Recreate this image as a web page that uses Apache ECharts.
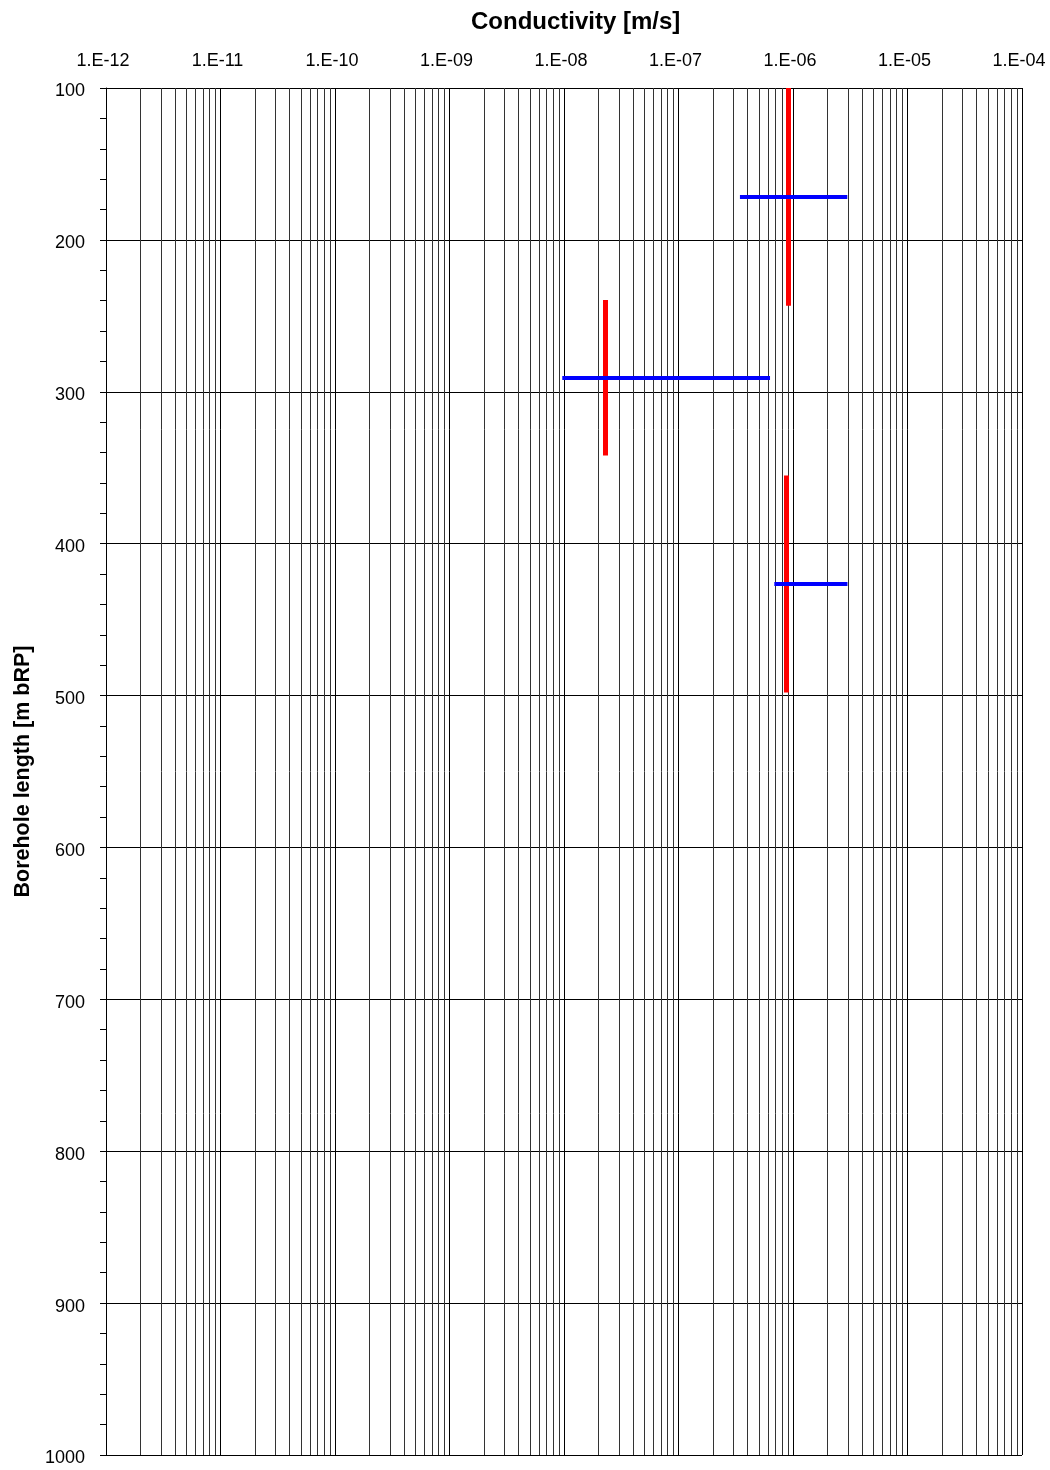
<!DOCTYPE html>
<html>
<head>
<meta charset="utf-8">
<title>Conductivity vs borehole length</title>
<script src="https://cdn.jsdelivr.net/npm/echarts@6/dist/echarts.min.js"></script>
<style>
  html, body { margin: 0; padding: 0; background: #fff; }
  #chart { width: 1050px; height: 1470px; }
</style>
</head>
<body>
<div id="chart"></div>
<script>
// Conductivity ranges (horizontal bars): [K from, K to, borehole length]
const rangeK = [
  [3.44e-7, 2.98e-6, 171.8],
  [9.66e-9, 6.3e-7, 290.9],
  [6.87e-7, 2.99e-6, 426.7]
];
// Test sections (vertical bars): [K, length from, length to]
const sectionK = [
  [9.1e-7, 100, 243.3],
  [2.31e-8, 239.6, 342.0],
  [8.75e-7, 355.2, 498.0]
];
// Axis ranges
const kMin = 1e-12, kMax = 1e-4;
const depthMin = 100, depthMax = 1000, depthStep = 100;

// Minor log grid lines at 2..9 × 10^n within each decade
const minorGrid = [];
for (let e = -12; e < -4; e++) {
  for (let k = 2; k <= 9; k++) minorGrid.push([k * Math.pow(10, e)]);
}

const FONT = 'Liberation Sans, Arial, sans-serif';

function fmtExp(v) {
  const e = Math.round(Math.log10(v));
  const s = e < 0 ? '-' : '+';
  const a = Math.abs(e);
  return '1.E' + s + (a < 10 ? '0' + a : a);
}

const chart = echarts.init(document.getElementById('chart'), null, { renderer: 'canvas' });
chart.setOption({
  animation: false,
  backgroundColor: '#fff',
  title: {
    text: 'Conductivity [m/s]',
    left: 466,
    top: 5,
    textStyle: { fontFamily: FONT, fontSize: 24, fontWeight: 'bold', color: '#000' }
  },
  grid: { left: 106, top: 88, right: 28, bottom: 15, containLabel: false, outerBoundsMode: 'none' },
  xAxis: {
    type: 'log',
    logBase: 10,
    position: 'top',
    min: kMin,
    max: kMax,
    interval: 1,
    axisLine: { show: true, lineStyle: { color: '#000', width: 1 } },
    axisTick: { show: false },
    axisLabel: {
      margin: 18,
      fontFamily: FONT, fontSize: 18, color: '#000',
      padding: [0, 6, 0, 0],
      formatter: fmtExp
    },
    splitLine: { show: true, lineStyle: { color: '#000', width: 1 } }
  },
  yAxis: {
    type: 'value',
    inverse: true,
    min: depthMin,
    max: depthMax,
    interval: depthStep,
    name: 'Borehole length [m bRP]',
    nameLocation: 'middle',
    nameRotate: 90,
    nameGap: 72,
    nameTextStyle: { fontFamily: FONT, fontSize: 21.5, fontWeight: 'bold', color: '#000' },
    axisLine: { show: true, lineStyle: { color: '#000', width: 1 } },
    axisTick: { show: true, inside: false, length: 6, lineStyle: { color: '#000' } },
    minorTick: { show: true, splitNumber: 5, length: 6, lineStyle: { color: '#000' } },
    axisLabel: {
      margin: 21,
      fontFamily: FONT, fontSize: 18, color: '#000',
      verticalAlign: 'top',
      lineHeight: 7,
      formatter: v => String(v)
    },
    splitLine: { show: true, lineStyle: { color: '#000', width: 1 } },
    minorSplitLine: { show: false }
  },
  series: [
    {
      // minor vertical grid lines of the log axis
      name: 'minorGrid',
      type: 'custom',
      silent: true,
      z: 1,
      clip: true,
      data: minorGrid,
      encode: { x: 0 },
      renderItem: function (params, api) {
        const k = api.value(0);
        const p1 = api.coord([k, depthMin]);
        const p2 = api.coord([k, depthMax]);
        const x = Math.round(p1[0]) + 0.5;
        return {
          type: 'line',
          shape: { x1: x, y1: p1[1], x2: x, y2: p2[1] },
          style: { stroke: '#333', lineWidth: 1 }
        };
      }
    },
    {
      name: 'Sections',
      type: 'lines',
      coordinateSystem: 'cartesian2d',
      polyline: false,
      silent: true,
      z: 3,
      lineStyle: { color: '#ff0000', width: 5, opacity: 1 },
      data: sectionK.map(d => ({ coords: [[d[0], d[1]], [d[0], d[2]]] }))
    },
    {
      name: 'Ranges',
      type: 'lines',
      coordinateSystem: 'cartesian2d',
      polyline: false,
      silent: true,
      z: 4,
      lineStyle: { color: '#0000ff', width: 4, opacity: 1 },
      data: rangeK.map(d => ({ coords: [[d[0], d[2]], [d[1], d[2]]] }))
    }
  ]
});
</script>
</body>
</html>
